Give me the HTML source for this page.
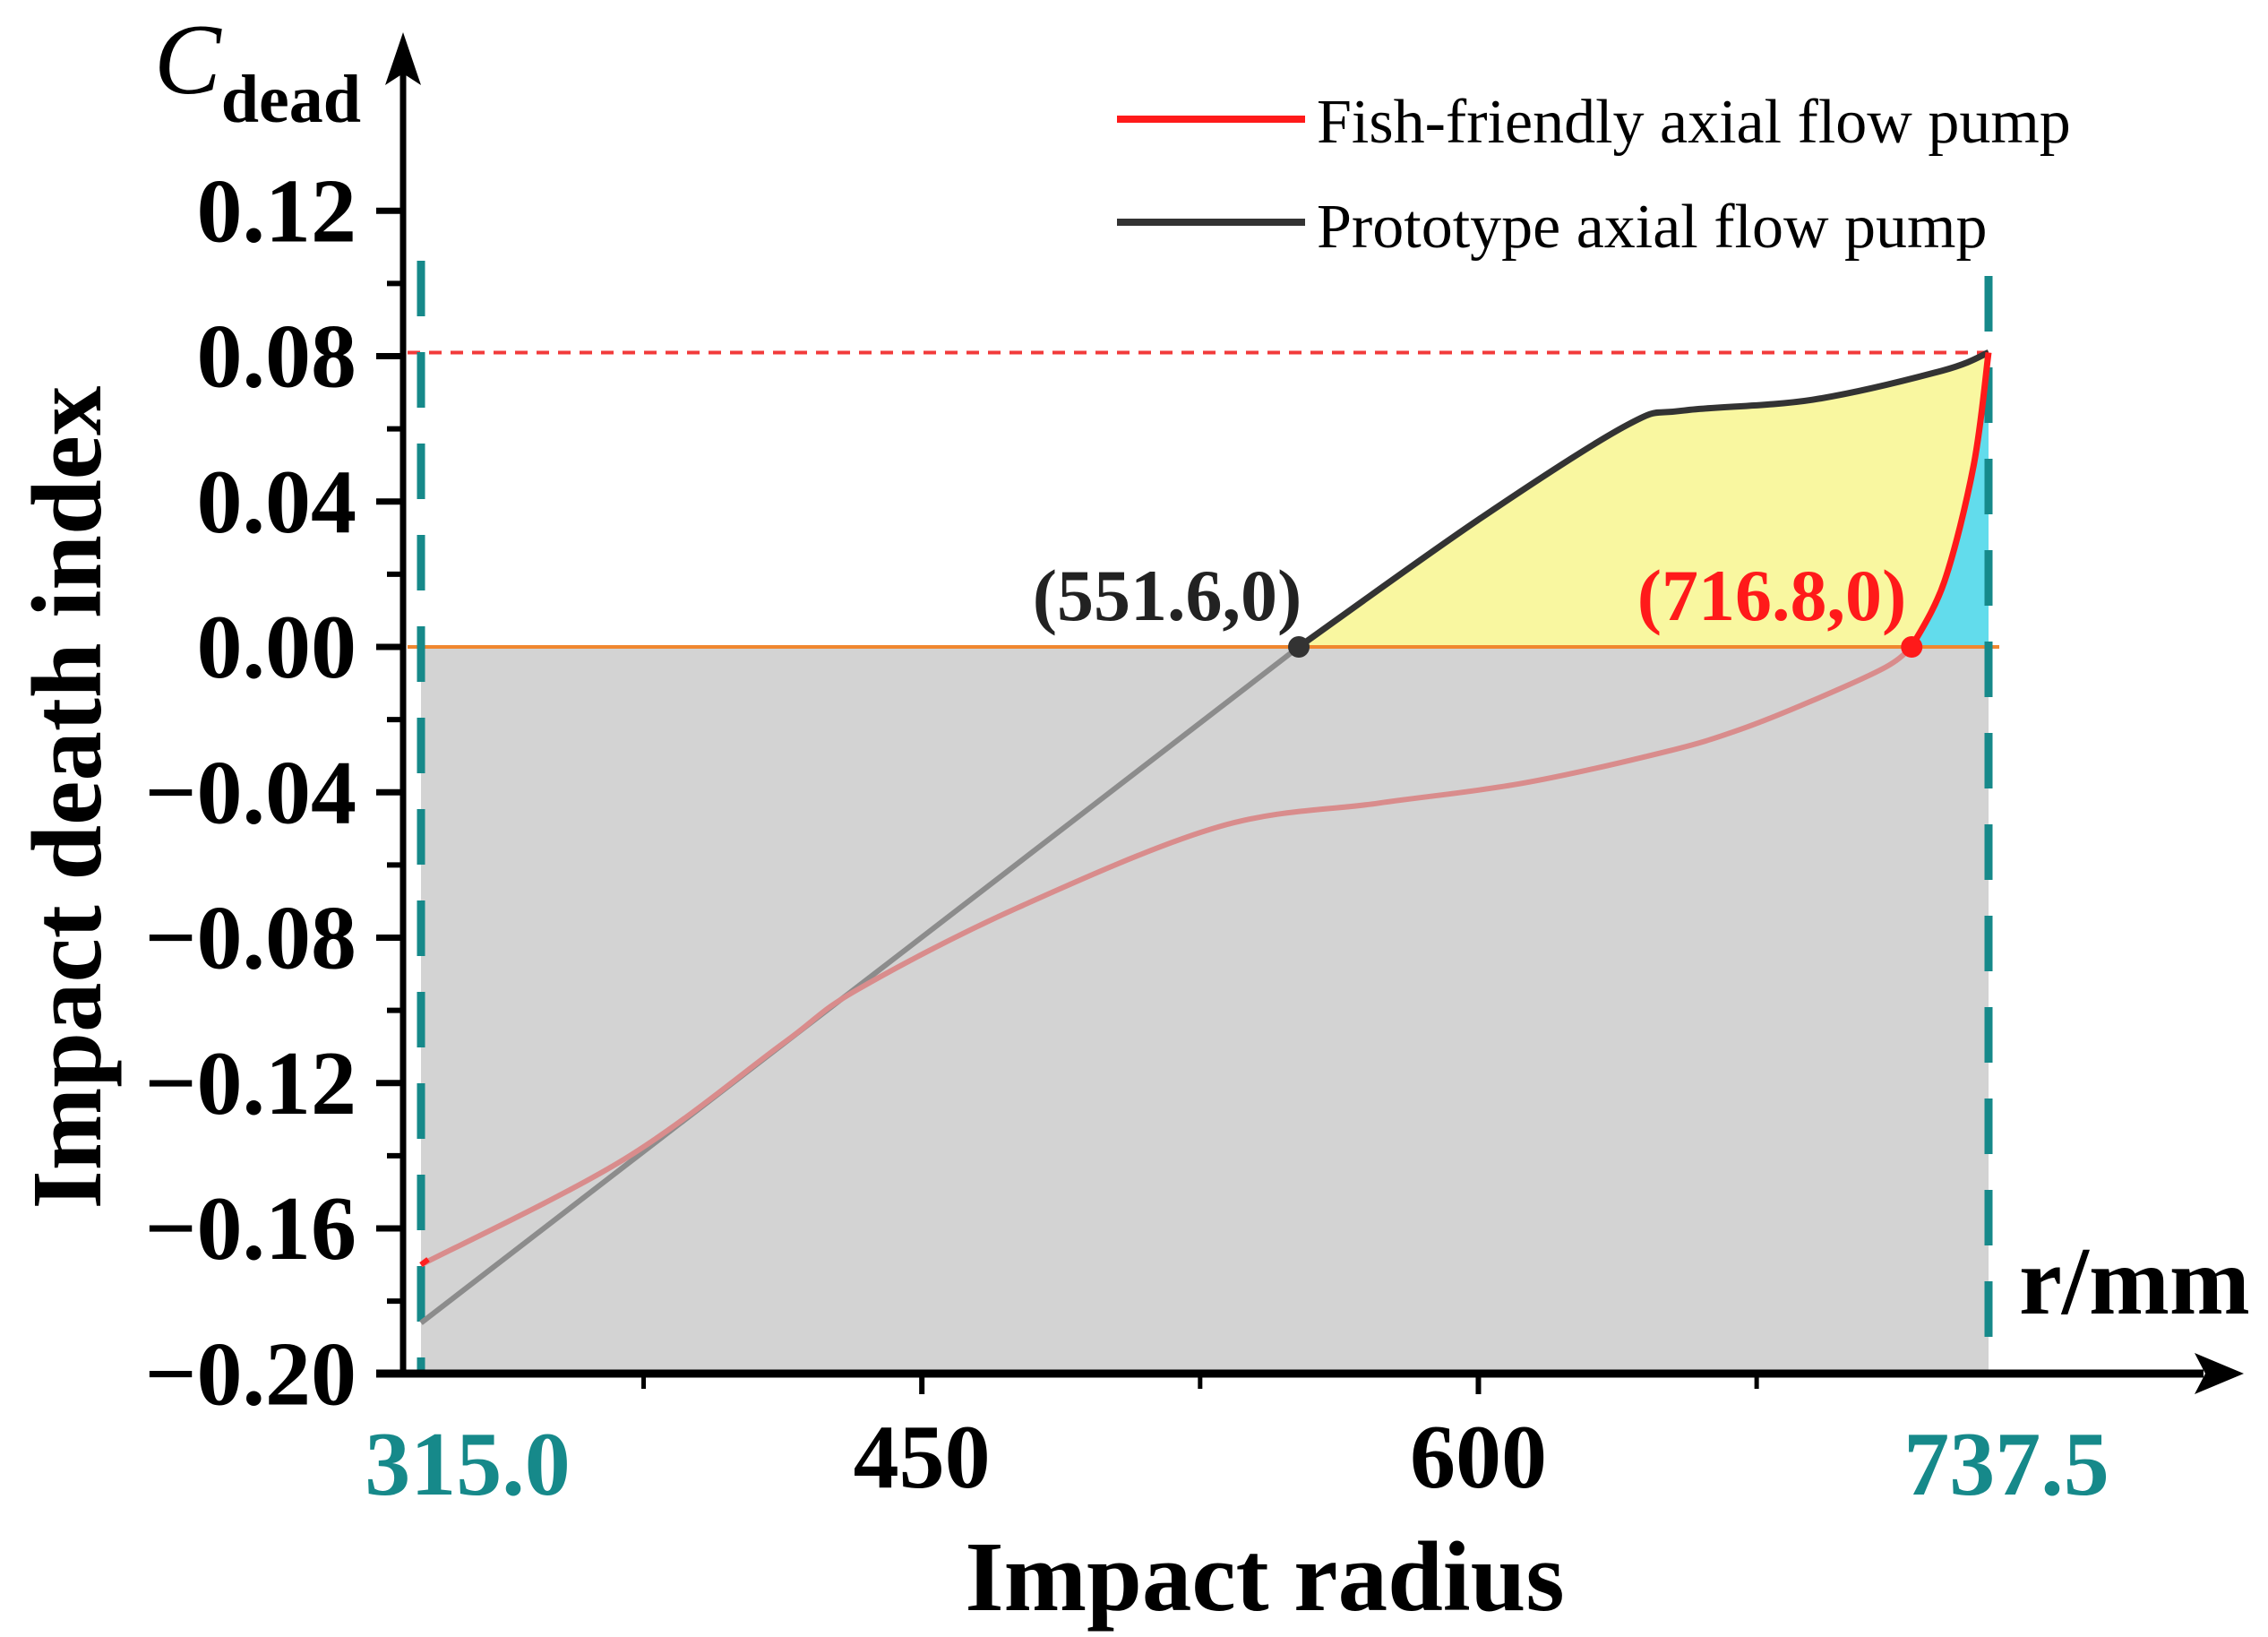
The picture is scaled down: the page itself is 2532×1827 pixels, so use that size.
<!DOCTYPE html>
<html><head><meta charset="utf-8"><style>
html,body{margin:0;padding:0;background:#fff;}
svg{display:block;}
text{font-family:"Liberation Serif","DejaVu Serif",serif;}
</style></head><body>
<svg id="chart" width="2532" height="1827" viewBox="0 0 2532 1827" xmlns="http://www.w3.org/2000/svg">
<g id="fills"></g>
<g id="refs"></g>
<g id="series"></g>
<g id="axes"></g>
<g id="labels"></g>
</svg>
<script>
// ---- data ----
const protoX = [315, 551.6, 600, 640, 655, 690, 725, 737.5];
const protoY = [-0.186, 0, 0.035, 0.061, 0.065, 0.068, 0.076, 0.081];
const fishX = [315, 369.7, 412.7, 432.3, 475.3, 530, 573, 612, 651, 670.6, 690, 709.7, 716.8, 725.6, 733.5, 737.5];
const fishY = [-0.170, -0.141, -0.109, -0.0945, -0.072, -0.0495, -0.043, -0.0375, -0.0287, -0.0227, -0.0148, -0.0056, 0, 0.018, 0.050, 0.081];
const yTicks = [0.12, 0.08, 0.04, 0.00, -0.04, -0.08, -0.12, -0.16, -0.20];
const yTickLabels = ["0.12", "0.08", "0.04", "0.00", "\u22120.04", "\u22120.08", "\u22120.12", "\u22120.16", "\u22120.20"];
const yMinor = [0.10, 0.06, 0.02, -0.02, -0.06, -0.10, -0.14, -0.18];
const xTicksMajor = [450, 600];
const xTicksMinor = [375, 525, 675];
const xBounds = [315.0, 737.5];
const xBoundLabels = ["315.0", "737.5"];
const zeroPoints = [551.6, 716.8];
const zeroLabels = ["(551.6,0)", "(716.8,0)"];
const maxLine = 0.081;

// ---- scales ----
const X0 = 470, X1 = 2220, Y0 = 722, PER = 162.25 / 0.04;
const sx = v => X0 + (v - 315) / (737.5 - 315) * (X1 - X0);
const sy = v => Y0 - v * PER;
const NS = "http://www.w3.org/2000/svg";
function mk(tag, attrs, parent) {
  const e = document.createElementNS(NS, tag);
  for (const k in attrs) e.setAttribute(k, attrs[k]);
  parent.appendChild(e);
  return e;
}
function smooth(xs, ys) {
  const p = xs.map((x, i) => [sx(x), sy(ys[i])]);
  let d = "M" + p[0][0] + "," + p[0][1];
  for (let i = 0; i < p.length - 1; i++) {
    const a = p[Math.max(0, i - 1)], b = p[i], c = p[i + 1], e = p[Math.min(p.length - 1, i + 2)];
    const c1 = [b[0] + (c[0] - a[0]) / 6, b[1] + (c[1] - a[1]) / 6];
    const c2 = [c[0] - (e[0] - b[0]) / 6, c[1] - (e[1] - b[1]) / 6];
    d += " C" + c1[0] + "," + c1[1] + " " + c2[0] + "," + c2[1] + " " + c[0] + "," + c[1];
  }
  return d;
}
function part(xs, ys, lo, hi) {
  const X = [], Y = [];
  xs.forEach((x, i) => { if (x >= lo && x <= hi) { X.push(x); Y.push(ys[i]); } });
  return [X, Y];
}
const fills = document.getElementById("fills");
const refs = document.getElementById("refs");
const series = document.getElementById("series");
const axes = document.getElementById("axes");
const labels = document.getElementById("labels");

const gray = mk("rect", {x: sx(xBounds[0]), y: sy(0), width: sx(xBounds[1]) - sx(xBounds[0]), height: sy(-0.20) - sy(0), fill: "#d3d3d3"}, fills);



const [pX, pY] = part(protoX, protoY, zeroPoints[0], 738);
const [fX, fY] = part(fishX, fishY, zeroPoints[1], 738);
const fishUp = smooth(fX, fY);
const protoUp = smooth(pX, pY);
const yel = mk("path", {d: protoUp + " L" + sx(xBounds[1]) + "," + sy(0) + " L" + sx(zeroPoints[0]) + "," + sy(0) + " Z", fill: "#f9f7a0"}, fills);


const cy = mk("path", {d: fishUp + " L" + sx(xBounds[1]) + "," + sy(0) + " Z", fill: "#62dcec"}, fills);



const redDash = mk("line", {x1: 455, x2: sx(xBounds[1]), y1: sy(maxLine), y2: sy(maxLine), stroke: "#f23a3a", "stroke-width": 4, "stroke-dasharray": "14,10"}, refs);


const zl = mk("line", {x1: 455, x2: sx(xBounds[1]) + 12, y1: sy(0), y2: sy(0), stroke: "#f0872f", "stroke-width": 4}, refs);


const tops = [291, 308];
xBounds.forEach((v, i) => {
  const l = mk("line", {x1: sx(v), x2: sx(v), y1: tops[i], y2: 1530, stroke: "#16898a", "stroke-width": 9, "stroke-dasharray": "62,40"}, refs);
  
  
});

const [pnX, pnY] = part(protoX, protoY, 0, zeroPoints[0]);
const pn = mk("path", {d: smooth(pnX, pnY), fill: "none", stroke: "#8c8c8c", "stroke-width": 6}, series);


const pp = mk("path", {d: protoUp, fill: "none", stroke: "#333", "stroke-width": 7}, series);


const [fnX, fnY] = part(fishX, fishY, 0, zeroPoints[1]);
const fn = mk("path", {d: smooth(fnX, fnY), fill: "none", stroke: "#d98c8c", "stroke-width": 6}, series);


const fsEnd = mk("line", {x1: sx(fishX[0]), x2: sx(fishX[0]) + 8, y1: sy(fishY[0]), y2: sy(fishY[0]) - 6, stroke: "#ff2020", "stroke-width": 6}, series);


const fp = mk("path", {d: fishUp, fill: "none", stroke: "#ff1a1a", "stroke-width": 7}, series);



const zpColors = ["#333", "#ff1a1a"];
const zpLabelX = [1303, 1978];
zeroPoints.forEach((v, i) => {
  const c = mk("circle", {cx: sx(v), cy: sy(0), r: 12, fill: zpColors[i]}, series);
  
  
  const t = mk("text", {x: zpLabelX[i], y: 692, "text-anchor": "middle", "font-size": 82, "font-weight": "bold", fill: i ? "#ff1a1a" : "#222"}, labels);
  t.textContent = zeroLabels[i];
  
  
});

const ya = mk("line", {x1: 450, x2: 450, y1: 80, y2: 1536, stroke: "#000", "stroke-width": 7}, axes);


const yar = mk("polygon", {points: "450,36 430,95 450,82 470,95", fill: "#000"}, axes);


const xa = mk("line", {x1: 420, x2: 2460, y1: 1533, y2: 1533, stroke: "#000", "stroke-width": 9}, axes);


const xar = mk("polygon", {points: "2505,1533 2450,1510 2462,1533 2450,1556", fill: "#000"}, axes);



yTicks.forEach((v, i) => {
  const tk = mk("line", {x1: 420, x2: 450, y1: sy(v), y2: sy(v), stroke: "#000", "stroke-width": 7}, axes);
  
  
  const t = mk("text", {x: 398, y: sy(v) + 34, "text-anchor": "end", "font-size": 102, "font-weight": "bold", fill: "#000"}, labels);
  t.textContent = yTickLabels[i];
  
  
});
yMinor.forEach(v => {
  const tk = mk("line", {x1: 432, x2: 450, y1: sy(v), y2: sy(v), stroke: "#000", "stroke-width": 6}, axes);
  
  
});
xTicksMajor.forEach(v => {
  const tk = mk("line", {x1: sx(v), x2: sx(v), y1: 1533, y2: 1556, stroke: "#000", "stroke-width": 6}, axes);
  
  
  const t = mk("text", {x: sx(v), y: 1660, "text-anchor": "middle", "font-size": 102, "font-weight": "bold", fill: "#000"}, labels);
  t.textContent = String(v);
  
  
});
xTicksMinor.forEach(v => {
  const tk = mk("line", {x1: sx(v), x2: sx(v), y1: 1533, y2: 1550, stroke: "#000", "stroke-width": 5}, axes);
  
  
});
const bLabelX = [522, 2240];
xBounds.forEach((v, i) => {
  const t = mk("text", {x: bLabelX[i], y: 1668, "text-anchor": "middle", "font-size": 102, "font-weight": "bold", fill: "#16898a"}, labels);
  t.textContent = xBoundLabels[i];
  
  
});
</script>
<svg style="position:absolute;left:0;top:0" width="2532" height="1827">
<text x="1412" y="1797" text-anchor="middle" font-size="111" font-weight="bold" font-family="Liberation Serif, serif">Impact radius</text>
<text x="0" y="0" transform="translate(112,890) rotate(-90)" text-anchor="middle" font-size="111" font-weight="bold" font-family="Liberation Serif, serif">Impact death index</text>
<text x="2254" y="1466" font-size="108" font-weight="bold" font-family="Liberation Serif, serif">r/mm</text>
<text x="172" y="104" font-family="Liberation Serif, serif"><tspan font-size="112" font-style="italic">C</tspan><tspan font-size="76" font-weight="bold" dy="32">dead</tspan></text>
<line x1="1247" x2="1457" y1="133" y2="133" stroke="#ff1a1a" stroke-width="8"/>
<text x="1470" y="159" font-size="70" font-family="Liberation Serif, serif">Fish-friendly axial flow pump</text>
<line x1="1247" x2="1457" y1="248" y2="248" stroke="#333" stroke-width="8"/>
<text x="1470" y="276" font-size="70" font-family="Liberation Serif, serif">Prototype axial flow pump</text>
</svg>
</body></html>
